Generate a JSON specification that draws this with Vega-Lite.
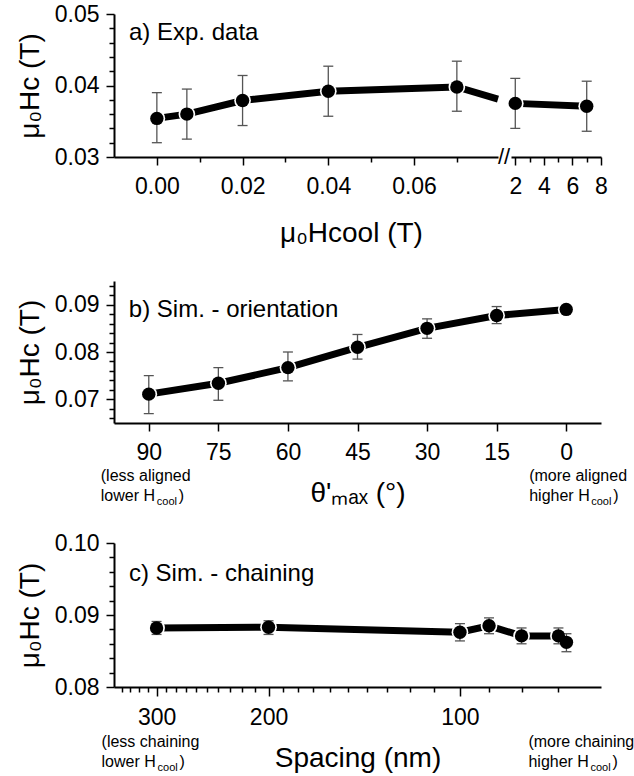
{
  "$schema": "https://vega.github.io/schema/vega-lite/v6.json",
  "background": "white",
  "padding": {"left": 16, "top": 3, "right": 4, "bottom": 4},
  "config": {
    "view": {"stroke": null},
    "axis": {"grid": false, "domainColor": "black", "domainWidth": 2, "tickColor": "black", "tickWidth": 1.5,
      "labelFont": "Liberation Sans", "labelFontSize": 23, "labelColor": "black", "labelOverlap": false, "labelFlush": false,
      "titleFont": "Liberation Sans", "titleFontSize": 28, "titleFontWeight": "normal", "titleColor": "black"},
    "axisY": {"titlePadding": 10, "labelPadding": 7},
    "axisX": {"titlePadding": 15, "labelPadding": 10}
  },
  "datasets": {
    "aL": [
      {"kind": "pt", "x": 0, "y": 0.0354, "lo": 0.032, "hi": 0.039},
      {"kind": "pt", "x": 0.007, "y": 0.036, "lo": 0.0325, "hi": 0.0395},
      {"kind": "pt", "x": 0.02, "y": 0.0379, "lo": 0.0344, "hi": 0.0414},
      {"kind": "pt", "x": 0.04, "y": 0.0392, "lo": 0.0357, "hi": 0.0427},
      {"kind": "pt", "x": 0.07, "y": 0.0398, "lo": 0.0364, "hi": 0.0434},
      {"kind": "break", "x": 0.0796, "y": 0.0381}
    ],
    "aR": [
      {"x": 2, "y": 0.0375, "lo": 0.034, "hi": 0.041},
      {"x": 7, "y": 0.0371, "lo": 0.0336, "hi": 0.0406}
    ],
    "b": [
      {"theta": 90, "hc": 0.0711, "lo": 0.067, "hi": 0.075},
      {"theta": 75, "hc": 0.0734, "lo": 0.0698, "hi": 0.0767},
      {"theta": 60, "hc": 0.0767, "lo": 0.0739, "hi": 0.08},
      {"theta": 45, "hc": 0.081, "lo": 0.0785, "hi": 0.0837},
      {"theta": 30, "hc": 0.085, "lo": 0.0829, "hi": 0.087},
      {"theta": 15, "hc": 0.0877, "lo": 0.086, "hi": 0.0896},
      {"theta": 0, "hc": 0.089, "lo": 0.0888, "hi": 0.0892}
    ],
    "c": [
      {"spacing": 300, "hc": 0.0882, "lo": 0.0873, "hi": 0.0891},
      {"spacing": 200, "hc": 0.0883, "lo": 0.0873, "hi": 0.0892},
      {"spacing": 100, "hc": 0.0876, "lo": 0.0864, "hi": 0.0888},
      {"spacing": 90, "hc": 0.0885, "lo": 0.0874, "hi": 0.0896},
      {"spacing": 80, "hc": 0.0871, "lo": 0.086, "hi": 0.0882},
      {"spacing": 70, "hc": 0.0871, "lo": 0.086, "hi": 0.0882},
      {"spacing": 68, "hc": 0.0862, "lo": 0.0849, "hi": 0.0874}
    ],
    "labels": [
      {"id": "a", "text": "a) Exp. data"},
      {"id": "brk", "text": "//"},
      {"id": "b", "text": "b) Sim. - orientation"},
      {"id": "bL", "text": "(less aligned\nlower H"},
      {"id": "bR", "text": "(more aligned\nhigher H"},
      {"id": "c", "text": "c) Sim. - chaining"},
      {"id": "cL", "text": "(less chaining\nlower H"},
      {"id": "cR", "text": "(more chaining\nhigher H"},
      {"id": "sub", "text": "cool"},
      {"id": "close", "text": ")"}
    ]
  },
  "spacing": 34,
  "resolve": {"scale": {"x": "independent", "y": "independent"}},
  "vconcat": [
    {
      "hconcat": [
        {
          "width": 384, "height": 143,
          "data": {"name": "aL"},
          "resolve": {"axis": {"x": "independent", "y": "independent"}},
          "layer": [
            {"mark": {"type": "line", "color": "black", "strokeWidth": 7},
              "encoding": {
                "x": {"field": "x", "type": "quantitative", "scale": {"domain": [-0.01, 0.0796], "nice": false, "zero": false},
                  "axis": {"orient": "bottom", "values": [0, 0.02, 0.04, 0.06], "format": ".2f", "tickSize": 8, "title": "μ₀Hcool (T)", "titleX": 237, "titlePadding": 21}},
                "y": {"field": "y", "type": "quantitative", "scale": {"domain": [0.03, 0.05], "nice": false, "zero": false},
                  "axis": {"orient": "left", "values": [0.03, 0.04, 0.05], "format": ".2f", "tickSize": 8, "title": "μ₀Hc (T)"}}}},
            {"transform": [{"filter": "datum.kind == 'pt'"}], "mark": {"type": "point", "filled": true, "color": "white", "opacity": 1, "size": 280},
              "encoding": {
                "x": {"field": "x", "type": "quantitative", "scale": {"domain": [-0.01, 0.0796], "nice": false, "zero": false},
                  "axis": {"orient": "bottom", "values": [0.01, 0.03, 0.05, 0.07], "tickSize": 5, "labels": false, "domain": false, "title": null}},
                "y": {"field": "y", "type": "quantitative", "scale": {"domain": [0.03, 0.05], "nice": false, "zero": false},
                  "axis": {"orient": "left", "values": [0.032, 0.034, 0.036, 0.038, 0.042, 0.044, 0.046, 0.048], "tickSize": 5, "labels": false, "domain": false, "title": null}}}},
            {"transform": [{"filter": "datum.kind == 'pt'"}], "mark": {"type": "rule", "color": "#555", "strokeWidth": 1.3},
              "encoding": {
                "x": {"field": "x", "type": "quantitative", "scale": {"domain": [-0.01, 0.0796], "nice": false, "zero": false}, "axis": null},
                "y": {"field": "lo", "type": "quantitative", "scale": {"domain": [0.03, 0.05], "nice": false, "zero": false}, "axis": null}, "y2": {"field": "hi"}}},
            {"transform": [{"filter": "datum.kind == 'pt'"}], "mark": {"type": "tick", "orient": "horizontal", "color": "#555", "size": 10, "thickness": 1.3, "opacity": 1},
              "encoding": {
                "x": {"field": "x", "type": "quantitative", "scale": {"domain": [-0.01, 0.0796], "nice": false, "zero": false}, "axis": null},
                "y": {"field": "lo", "type": "quantitative", "scale": {"domain": [0.03, 0.05], "nice": false, "zero": false}, "axis": null}}},
            {"transform": [{"filter": "datum.kind == 'pt'"}], "mark": {"type": "tick", "orient": "horizontal", "color": "#555", "size": 10, "thickness": 1.3, "opacity": 1},
              "encoding": {
                "x": {"field": "x", "type": "quantitative", "scale": {"domain": [-0.01, 0.0796], "nice": false, "zero": false}, "axis": null},
                "y": {"field": "hi", "type": "quantitative", "scale": {"domain": [0.03, 0.05], "nice": false, "zero": false}, "axis": null}}},
            {"transform": [{"filter": "datum.kind == 'pt'"}], "mark": {"type": "point", "filled": true, "color": "black", "opacity": 1, "size": 180},
              "encoding": {
                "x": {"field": "x", "type": "quantitative", "scale": {"domain": [-0.01, 0.0796], "nice": false, "zero": false}, "axis": null},
                "y": {"field": "y", "type": "quantitative", "scale": {"domain": [0.03, 0.05], "nice": false, "zero": false}, "axis": null}}},
            {"data": {"name": "labels"}, "transform": [{"filter": "datum.id == 'a'"}],
              "mark": {"type": "text", "align": "left", "baseline": "middle", "fontSize": 24, "font": "Liberation Sans", "color": "black"},
              "encoding": {
                "x": {"datum": -0.0065, "type": "quantitative", "scale": {"domain": [-0.01, 0.0796], "nice": false, "zero": false}, "axis": null},
                "y": {"datum": 0.0473, "type": "quantitative", "scale": {"domain": [0.03, 0.05], "nice": false, "zero": false}, "axis": null},
                "text": {"field": "text"}}}
          ]
        },
        {
          "width": 90, "height": 143,
          "data": {"name": "aR"},
          "resolve": {"axis": {"x": "independent", "y": "independent"}},
          "layer": [
            {"mark": {"type": "line", "color": "black", "strokeWidth": 7},
              "encoding": {
                "x": {"field": "x", "type": "quantitative", "scale": {"domain": [1.7, 8], "nice": false, "zero": false},
                  "axis": {"orient": "bottom", "values": [2, 4, 6, 8], "format": "d", "tickSize": 8, "title": null}},
                "y": {"field": "y", "type": "quantitative", "scale": {"domain": [0.03, 0.05], "nice": false, "zero": false}, "axis": null}}},
            {"mark": {"type": "point", "filled": true, "color": "white", "opacity": 1, "size": 280},
              "encoding": {
                "x": {"field": "x", "type": "quantitative", "scale": {"domain": [1.7, 8], "nice": false, "zero": false},
                  "axis": {"orient": "bottom", "values": [3, 5, 7], "tickSize": 5, "labels": false, "domain": false, "title": null}},
                "y": {"field": "y", "type": "quantitative", "scale": {"domain": [0.03, 0.05], "nice": false, "zero": false}, "axis": null}}},
            {"mark": {"type": "rule", "color": "#555", "strokeWidth": 1.3},
              "encoding": {
                "x": {"field": "x", "type": "quantitative", "scale": {"domain": [1.7, 8], "nice": false, "zero": false}, "axis": null},
                "y": {"field": "lo", "type": "quantitative", "scale": {"domain": [0.03, 0.05], "nice": false, "zero": false}, "axis": null}, "y2": {"field": "hi"}}},
            {"mark": {"type": "tick", "orient": "horizontal", "color": "#555", "size": 10, "thickness": 1.3, "opacity": 1},
              "encoding": {
                "x": {"field": "x", "type": "quantitative", "scale": {"domain": [1.7, 8], "nice": false, "zero": false}, "axis": null},
                "y": {"field": "lo", "type": "quantitative", "scale": {"domain": [0.03, 0.05], "nice": false, "zero": false}, "axis": null}}},
            {"mark": {"type": "tick", "orient": "horizontal", "color": "#555", "size": 10, "thickness": 1.3, "opacity": 1},
              "encoding": {
                "x": {"field": "x", "type": "quantitative", "scale": {"domain": [1.7, 8], "nice": false, "zero": false}, "axis": null},
                "y": {"field": "hi", "type": "quantitative", "scale": {"domain": [0.03, 0.05], "nice": false, "zero": false}, "axis": null}}},
            {"mark": {"type": "point", "filled": true, "color": "black", "opacity": 1, "size": 180},
              "encoding": {
                "x": {"field": "x", "type": "quantitative", "scale": {"domain": [1.7, 8], "nice": false, "zero": false}, "axis": null},
                "y": {"field": "y", "type": "quantitative", "scale": {"domain": [0.03, 0.05], "nice": false, "zero": false}, "axis": null}}},
            {"data": {"name": "labels"}, "transform": [{"filter": "datum.id == 'brk'"}],
              "mark": {"type": "text", "align": "center", "baseline": "middle", "fontSize": 22, "dx": -7, "font": "Liberation Sans", "color": "black"},
              "encoding": {
                "x": {"datum": 1.7, "type": "quantitative", "scale": {"domain": [1.7, 8], "nice": false, "zero": false}, "axis": null},
                "y": {"datum": 0.03, "type": "quantitative", "scale": {"domain": [0.03, 0.05], "nice": false, "zero": false}, "axis": null},
                "text": {"field": "text"}}}
          ]
        }
      ],
      "spacing": 13,
      "bounds": "flush",
      "resolve": {"scale": {"x": "independent", "y": "independent"}}
    },
    {
      "vconcat": [
        {
          "width": 487, "height": 142,
          "data": {"name": "b"},
          "resolve": {"axis": {"x": "independent", "y": "independent"}},
          "layer": [
            {"mark": {"type": "line", "color": "black", "strokeWidth": 7},
              "encoding": {
                "x": {"field": "theta", "type": "quantitative", "scale": {"domain": [-7.5, 97.5], "reverse": true, "nice": false, "zero": false},
                  "axis": {"orient": "bottom", "values": [0, 15, 30, 45, 60, 75, 90], "format": "d", "tickSize": 8, "title": "θ'ₘₐₓ (°)"}},
                "y": {"field": "hc", "type": "quantitative", "scale": {"domain": [0.065, 0.095], "nice": false, "zero": false},
                  "axis": {"orient": "left", "values": [0.07, 0.08, 0.09], "format": ".2f", "tickSize": 8, "title": "μ₀Hc (T)"}}}},
            {"mark": {"type": "point", "filled": true, "color": "white", "opacity": 1, "size": 280},
              "encoding": {
                "x": {"field": "theta", "type": "quantitative", "scale": {"domain": [-7.5, 97.5], "reverse": true, "nice": false, "zero": false}, "axis": null},
                "y": {"field": "hc", "type": "quantitative", "scale": {"domain": [0.065, 0.095], "nice": false, "zero": false},
                  "axis": {"orient": "left", "values": [0.066, 0.068, 0.072, 0.074, 0.076, 0.078, 0.082, 0.084, 0.086, 0.088, 0.092, 0.094], "tickSize": 5, "labels": false, "domain": false, "title": null}}}},
            {"mark": {"type": "rule", "color": "#555", "strokeWidth": 1.3},
              "encoding": {
                "x": {"field": "theta", "type": "quantitative", "scale": {"domain": [-7.5, 97.5], "reverse": true, "nice": false, "zero": false}, "axis": null},
                "y": {"field": "lo", "type": "quantitative", "scale": {"domain": [0.065, 0.095], "nice": false, "zero": false}, "axis": null}, "y2": {"field": "hi"}}},
            {"mark": {"type": "tick", "orient": "horizontal", "color": "#555", "size": 10, "thickness": 1.3, "opacity": 1},
              "encoding": {
                "x": {"field": "theta", "type": "quantitative", "scale": {"domain": [-7.5, 97.5], "reverse": true, "nice": false, "zero": false}, "axis": null},
                "y": {"field": "lo", "type": "quantitative", "scale": {"domain": [0.065, 0.095], "nice": false, "zero": false}, "axis": null}}},
            {"mark": {"type": "tick", "orient": "horizontal", "color": "#555", "size": 10, "thickness": 1.3, "opacity": 1},
              "encoding": {
                "x": {"field": "theta", "type": "quantitative", "scale": {"domain": [-7.5, 97.5], "reverse": true, "nice": false, "zero": false}, "axis": null},
                "y": {"field": "hi", "type": "quantitative", "scale": {"domain": [0.065, 0.095], "nice": false, "zero": false}, "axis": null}}},
            {"mark": {"type": "point", "filled": true, "color": "black", "opacity": 1, "size": 180},
              "encoding": {
                "x": {"field": "theta", "type": "quantitative", "scale": {"domain": [-7.5, 97.5], "reverse": true, "nice": false, "zero": false}, "axis": null},
                "y": {"field": "hc", "type": "quantitative", "scale": {"domain": [0.065, 0.095], "nice": false, "zero": false}, "axis": null}}},
            {"data": {"name": "labels"}, "transform": [{"filter": "datum.id == 'b'"}],
              "mark": {"type": "text", "align": "left", "baseline": "middle", "fontSize": 24, "font": "Liberation Sans", "color": "black"},
              "encoding": {
                "x": {"datum": 94.3, "type": "quantitative", "scale": {"domain": [-7.5, 97.5], "reverse": true, "nice": false, "zero": false}, "axis": null},
                "y": {"datum": 0.0889, "type": "quantitative", "scale": {"domain": [0.065, 0.095], "nice": false, "zero": false}, "axis": null},
                "text": {"field": "text"}}},
            {"data": {"name": "labels"}, "transform": [{"filter": "datum.id == 'bL'"}],
              "mark": {"type": "text", "align": "left", "baseline": "alphabetic", "fontSize": 16, "lineBreak": "\n", "lineHeight": 20, "dx": -48, "font": "Liberation Sans", "color": "black"},
              "encoding": {
                "x": {"datum": 90, "type": "quantitative", "scale": {"domain": [-7.5, 97.5], "reverse": true, "nice": false, "zero": false}, "axis": null},
                "y": {"datum": 0.0528, "type": "quantitative", "scale": {"domain": [0.065, 0.095], "nice": false, "zero": false}, "axis": null},
                "text": {"field": "text"}}},
            {"data": {"name": "labels"}, "transform": [{"filter": "datum.id == 'sub'"}],
              "mark": {"type": "text", "align": "left", "baseline": "alphabetic", "fontSize": 11, "dx": 8, "dy": 24, "font": "Liberation Sans", "color": "black"},
              "encoding": {
                "x": {"datum": 90, "type": "quantitative", "scale": {"domain": [-7.5, 97.5], "reverse": true, "nice": false, "zero": false}, "axis": null},
                "y": {"datum": 0.0528, "type": "quantitative", "scale": {"domain": [0.065, 0.095], "nice": false, "zero": false}, "axis": null},
                "text": {"field": "text"}}},
            {"data": {"name": "labels"}, "transform": [{"filter": "datum.id == 'close'"}],
              "mark": {"type": "text", "align": "left", "baseline": "alphabetic", "fontSize": 16, "dx": 30, "dy": 20, "font": "Liberation Sans", "color": "black"},
              "encoding": {
                "x": {"datum": 90, "type": "quantitative", "scale": {"domain": [-7.5, 97.5], "reverse": true, "nice": false, "zero": false}, "axis": null},
                "y": {"datum": 0.0528, "type": "quantitative", "scale": {"domain": [0.065, 0.095], "nice": false, "zero": false}, "axis": null},
                "text": {"field": "text"}}},
            {"data": {"name": "labels"}, "transform": [{"filter": "datum.id == 'bR'"}],
              "mark": {"type": "text", "align": "left", "baseline": "alphabetic", "fontSize": 16, "lineBreak": "\n", "lineHeight": 20, "dx": -37, "font": "Liberation Sans", "color": "black"},
              "encoding": {
                "x": {"datum": 0, "type": "quantitative", "scale": {"domain": [-7.5, 97.5], "reverse": true, "nice": false, "zero": false}, "axis": null},
                "y": {"datum": 0.0528, "type": "quantitative", "scale": {"domain": [0.065, 0.095], "nice": false, "zero": false}, "axis": null},
                "text": {"field": "text"}}},
            {"data": {"name": "labels"}, "transform": [{"filter": "datum.id == 'sub'"}],
              "mark": {"type": "text", "align": "left", "baseline": "alphabetic", "fontSize": 11, "dx": 25, "dy": 24, "font": "Liberation Sans", "color": "black"},
              "encoding": {
                "x": {"datum": 0, "type": "quantitative", "scale": {"domain": [-7.5, 97.5], "reverse": true, "nice": false, "zero": false}, "axis": null},
                "y": {"datum": 0.0528, "type": "quantitative", "scale": {"domain": [0.065, 0.095], "nice": false, "zero": false}, "axis": null},
                "text": {"field": "text"}}},
            {"data": {"name": "labels"}, "transform": [{"filter": "datum.id == 'close'"}],
              "mark": {"type": "text", "align": "left", "baseline": "alphabetic", "fontSize": 16, "dx": 47, "dy": 20, "font": "Liberation Sans", "color": "black"},
              "encoding": {
                "x": {"datum": 0, "type": "quantitative", "scale": {"domain": [-7.5, 97.5], "reverse": true, "nice": false, "zero": false}, "axis": null},
                "y": {"datum": 0.0528, "type": "quantitative", "scale": {"domain": [0.065, 0.095], "nice": false, "zero": false}, "axis": null},
                "text": {"field": "text"}}}
          ]
        },
        {
          "width": 487, "height": 144,
          "data": {"name": "c"},
          "resolve": {"axis": {"x": "independent", "y": "independent"}},
          "layer": [
            {"mark": {"type": "line", "color": "black", "strokeWidth": 7},
              "encoding": {
                "x": {"field": "spacing", "type": "quantitative", "scale": {"type": "log", "domain": [60, 350], "reverse": true, "nice": false, "zero": false},
                  "axis": {"orient": "bottom", "values": [100, 200, 300], "format": "d", "tickSize": 9, "title": "Spacing (nm)"}},
                "y": {"field": "hc", "type": "quantitative", "scale": {"domain": [0.08, 0.1], "nice": false, "zero": false},
                  "axis": {"orient": "left", "values": [0.08, 0.09, 0.1], "format": ".2f", "tickSize": 8, "title": "μ₀Hc (T)"}}}},
            {"mark": {"type": "point", "filled": true, "color": "white", "opacity": 1, "size": 280},
              "encoding": {
                "x": {"field": "spacing", "type": "quantitative", "scale": {"type": "log", "domain": [60, 350], "reverse": true, "nice": false, "zero": false},
                  "axis": {"orient": "bottom", "values": [70, 80, 90, 110, 120, 130, 140, 150, 160, 170, 180, 190, 210, 220, 230, 240, 250, 260, 270, 280, 290, 310, 320, 330, 340], "tickSize": 5, "labels": false, "domain": false, "title": null}},
                "y": {"field": "hc", "type": "quantitative", "scale": {"domain": [0.08, 0.1], "nice": false, "zero": false},
                  "axis": {"orient": "left", "values": [0.082, 0.084, 0.086, 0.088, 0.092, 0.094, 0.096, 0.098], "tickSize": 5, "labels": false, "domain": false, "title": null}}}},
            {"mark": {"type": "rule", "color": "#555", "strokeWidth": 1.3},
              "encoding": {
                "x": {"field": "spacing", "type": "quantitative", "scale": {"type": "log", "domain": [60, 350], "reverse": true, "nice": false, "zero": false}, "axis": null},
                "y": {"field": "lo", "type": "quantitative", "scale": {"domain": [0.08, 0.1], "nice": false, "zero": false}, "axis": null}, "y2": {"field": "hi"}}},
            {"mark": {"type": "tick", "orient": "horizontal", "color": "#555", "size": 10, "thickness": 1.3, "opacity": 1},
              "encoding": {
                "x": {"field": "spacing", "type": "quantitative", "scale": {"type": "log", "domain": [60, 350], "reverse": true, "nice": false, "zero": false}, "axis": null},
                "y": {"field": "lo", "type": "quantitative", "scale": {"domain": [0.08, 0.1], "nice": false, "zero": false}, "axis": null}}},
            {"mark": {"type": "tick", "orient": "horizontal", "color": "#555", "size": 10, "thickness": 1.3, "opacity": 1},
              "encoding": {
                "x": {"field": "spacing", "type": "quantitative", "scale": {"type": "log", "domain": [60, 350], "reverse": true, "nice": false, "zero": false}, "axis": null},
                "y": {"field": "hi", "type": "quantitative", "scale": {"domain": [0.08, 0.1], "nice": false, "zero": false}, "axis": null}}},
            {"mark": {"type": "point", "filled": true, "color": "black", "opacity": 1, "size": 180},
              "encoding": {
                "x": {"field": "spacing", "type": "quantitative", "scale": {"type": "log", "domain": [60, 350], "reverse": true, "nice": false, "zero": false}, "axis": null},
                "y": {"field": "hc", "type": "quantitative", "scale": {"domain": [0.08, 0.1], "nice": false, "zero": false}, "axis": null}}},
            {"data": {"name": "labels"}, "transform": [{"filter": "datum.id == 'c'"}],
              "mark": {"type": "text", "align": "left", "baseline": "middle", "fontSize": 24, "font": "Liberation Sans", "color": "black"},
              "encoding": {
                "x": {"datum": 331.6, "type": "quantitative", "scale": {"type": "log", "domain": [60, 350], "reverse": true, "nice": false, "zero": false}, "axis": null},
                "y": {"datum": 0.0957, "type": "quantitative", "scale": {"domain": [0.08, 0.1], "nice": false, "zero": false}, "axis": null},
                "text": {"field": "text"}}},
            {"data": {"name": "labels"}, "transform": [{"filter": "datum.id == 'cL'"}],
              "mark": {"type": "text", "align": "left", "baseline": "alphabetic", "fontSize": 16, "lineBreak": "\n", "lineHeight": 20, "dx": -55, "font": "Liberation Sans", "color": "black"},
              "encoding": {
                "x": {"datum": 300, "type": "quantitative", "scale": {"type": "log", "domain": [60, 350], "reverse": true, "nice": false, "zero": false}, "axis": null},
                "y": {"datum": 0.0716, "type": "quantitative", "scale": {"domain": [0.08, 0.1], "nice": false, "zero": false}, "axis": null},
                "text": {"field": "text"}}},
            {"data": {"name": "labels"}, "transform": [{"filter": "datum.id == 'sub'"}],
              "mark": {"type": "text", "align": "left", "baseline": "alphabetic", "fontSize": 11, "dx": 1, "dy": 24, "font": "Liberation Sans", "color": "black"},
              "encoding": {
                "x": {"datum": 300, "type": "quantitative", "scale": {"type": "log", "domain": [60, 350], "reverse": true, "nice": false, "zero": false}, "axis": null},
                "y": {"datum": 0.0716, "type": "quantitative", "scale": {"domain": [0.08, 0.1], "nice": false, "zero": false}, "axis": null},
                "text": {"field": "text"}}},
            {"data": {"name": "labels"}, "transform": [{"filter": "datum.id == 'close'"}],
              "mark": {"type": "text", "align": "left", "baseline": "alphabetic", "fontSize": 16, "dx": 23, "dy": 20, "font": "Liberation Sans", "color": "black"},
              "encoding": {
                "x": {"datum": 300, "type": "quantitative", "scale": {"type": "log", "domain": [60, 350], "reverse": true, "nice": false, "zero": false}, "axis": null},
                "y": {"datum": 0.0716, "type": "quantitative", "scale": {"domain": [0.08, 0.1], "nice": false, "zero": false}, "axis": null},
                "text": {"field": "text"}}},
            {"data": {"name": "labels"}, "transform": [{"filter": "datum.id == 'cR'"}],
              "mark": {"type": "text", "align": "left", "baseline": "alphabetic", "fontSize": 16, "lineBreak": "\n", "lineHeight": 20, "dx": -30, "font": "Liberation Sans", "color": "black"},
              "encoding": {
                "x": {"datum": 70, "type": "quantitative", "scale": {"type": "log", "domain": [60, 350], "reverse": true, "nice": false, "zero": false}, "axis": null},
                "y": {"datum": 0.0716, "type": "quantitative", "scale": {"domain": [0.08, 0.1], "nice": false, "zero": false}, "axis": null},
                "text": {"field": "text"}}},
            {"data": {"name": "labels"}, "transform": [{"filter": "datum.id == 'sub'"}],
              "mark": {"type": "text", "align": "left", "baseline": "alphabetic", "fontSize": 11, "dx": 32, "dy": 24, "font": "Liberation Sans", "color": "black"},
              "encoding": {
                "x": {"datum": 70, "type": "quantitative", "scale": {"type": "log", "domain": [60, 350], "reverse": true, "nice": false, "zero": false}, "axis": null},
                "y": {"datum": 0.0716, "type": "quantitative", "scale": {"domain": [0.08, 0.1], "nice": false, "zero": false}, "axis": null},
                "text": {"field": "text"}}},
            {"data": {"name": "labels"}, "transform": [{"filter": "datum.id == 'close'"}],
              "mark": {"type": "text", "align": "left", "baseline": "alphabetic", "fontSize": 16, "dx": 54, "dy": 20, "font": "Liberation Sans", "color": "black"},
              "encoding": {
                "x": {"datum": 70, "type": "quantitative", "scale": {"type": "log", "domain": [60, 350], "reverse": true, "nice": false, "zero": false}, "axis": null},
                "y": {"datum": 0.0716, "type": "quantitative", "scale": {"domain": [0.08, 0.1], "nice": false, "zero": false}, "axis": null},
                "text": {"field": "text"}}}
          ]
        }
      ],
      "spacing": 25,
      "resolve": {"scale": {"x": "independent", "y": "independent"}}
    }
  ]
}
